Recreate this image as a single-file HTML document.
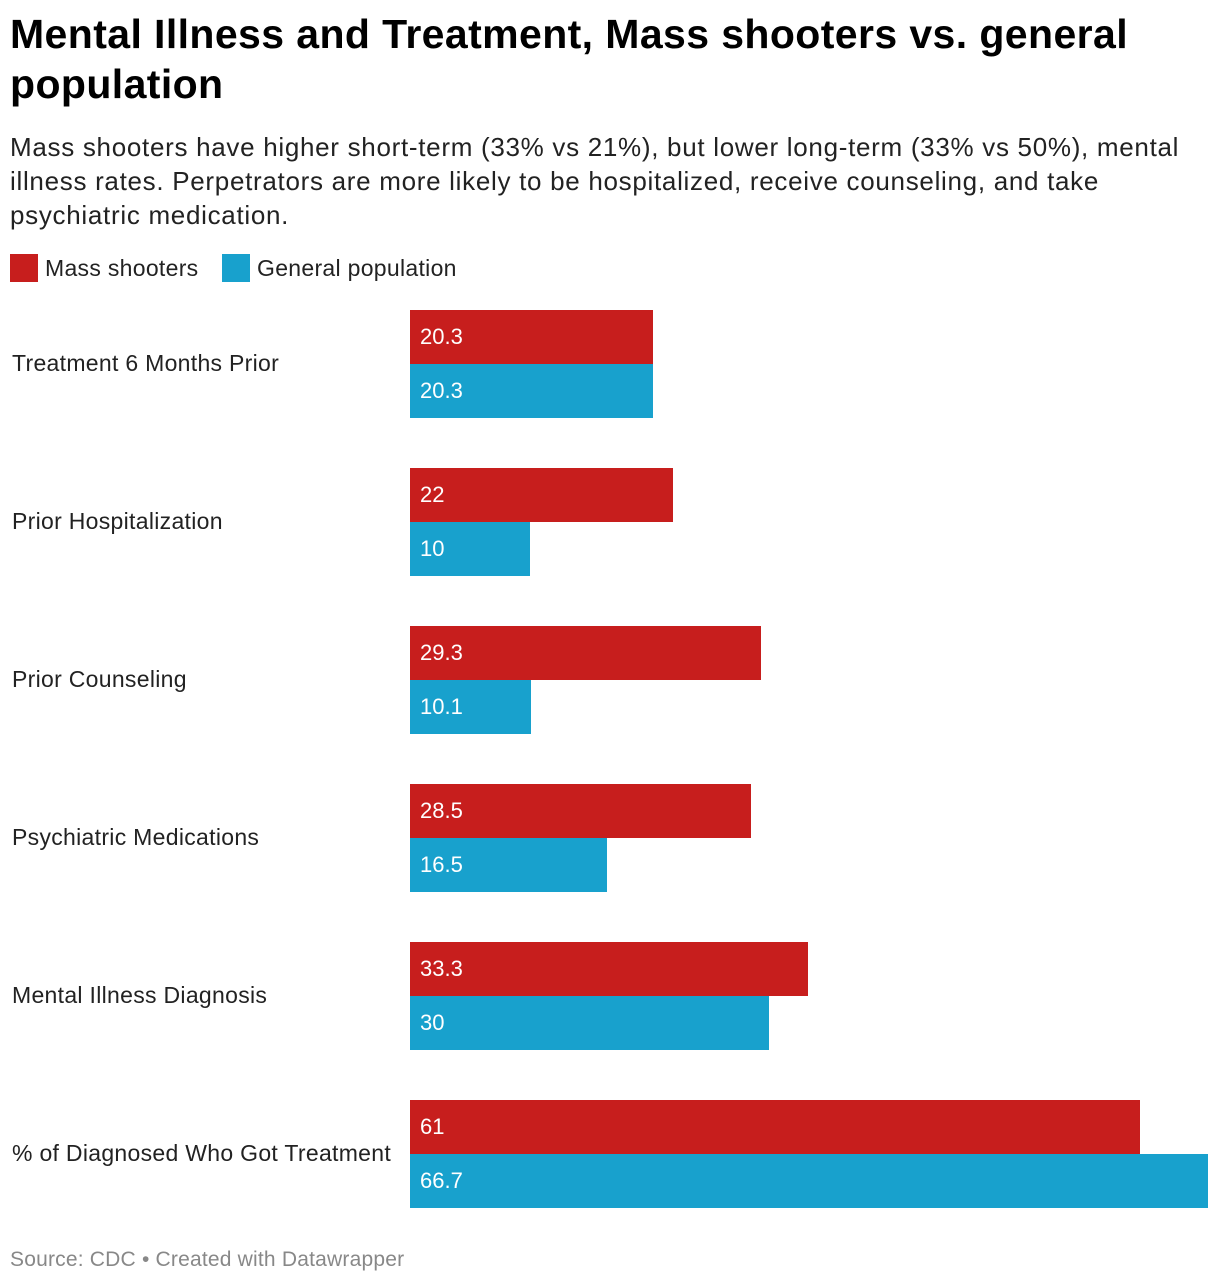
<!DOCTYPE html>
<html><head><meta charset="utf-8"><style>
body{margin:0;width:1220px;height:1286px;background:#fff;font-family:"Liberation Sans",sans-serif;color:#000;position:relative;overflow:hidden}
.abs{position:absolute}
#title{left:10px;top:9px;font-size:41px;font-weight:bold;line-height:50px;width:1210px;white-space:nowrap;letter-spacing:0.4px}
#sub{left:10px;top:130px;font-size:26px;line-height:34px;width:1210px;color:#222;letter-spacing:0.7px;white-space:nowrap}
.leg{top:254px;font-size:23px;line-height:28px;color:#222;letter-spacing:0.3px}
.sw{display:inline-block;width:28px;height:28px;vertical-align:top;margin-right:7px}
.lab{left:12px;font-size:23px;color:#222;white-space:nowrap;letter-spacing:0.3px}
.bar{position:absolute;height:54px}
.val{position:absolute;color:#fff;font-size:22px;line-height:54px}
#src{left:10px;top:1248px;font-size:21px;color:#888;letter-spacing:0.2px}
</style></head><body>
<div id="title" class="abs">Mental Illness and Treatment, Mass shooters vs. general<br>population</div>
<div id="sub" class="abs">Mass shooters have higher short-term (33% vs 21%), but lower long-term (33% vs 50%), mental<br>illness rates. Perpetrators are more likely to be hospitalized, receive counseling, and take<br>psychiatric medication.</div>
<div class="abs leg" style="left:10px"><span class="sw" style="background:#c71e1d"></span>Mass shooters</div>
<div class="abs leg" style="left:222px"><span class="sw" style="background:#18a1cd"></span>General population</div>
<div id="chart"></div>
<div id="src" class="abs">Source: CDC • Created with Datawrapper</div>
<script>
const categories=["Treatment 6 Months Prior","Prior Hospitalization","Prior Counseling","Psychiatric Medications","Mental Illness Diagnosis","% of Diagnosed Who Got Treatment"];
const shooters=[20.3,22,29.3,28.5,33.3,61];
const general=[20.3,10,10.1,16.5,30,66.7];
const x0=410,x1=1208,maxV=66.7;
const xs=v=>v/maxV*(x1-x0);
const chart=document.getElementById('chart');
categories.forEach((c,i)=>{
 const top=310+i*158;
 const l=document.createElement('div');
 l.className='abs lab';l.style.top=(top+40)+'px';l.textContent=c;
 
 
 chart.appendChild(l);
 [[shooters,'#c71e1d',0],[general,'#18a1cd',54]].forEach(([arr,col,off])=>{
  const b=document.createElement('div');b.className='bar';
  b.style.left=x0+'px';b.style.top=(top+off)+'px';b.style.width=xs(arr[i])+'px';b.style.background=col;
  
  
  chart.appendChild(b);
  const t=document.createElement('div');t.className='val';
  t.style.left=(x0+10)+'px';t.style.top=(top+off)+'px';t.textContent=arr[i];
  
  
  chart.appendChild(t);
 });
});
</script>
</body></html>
